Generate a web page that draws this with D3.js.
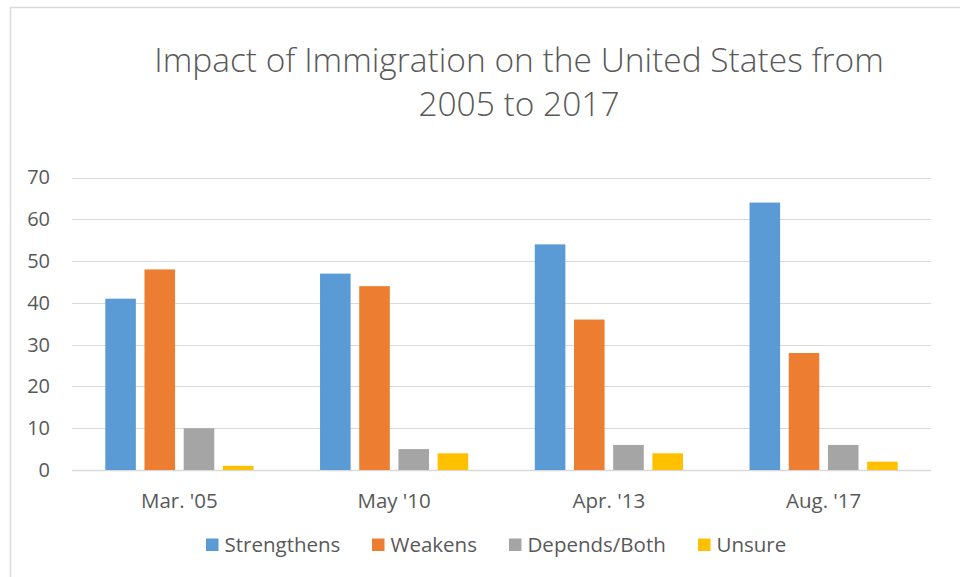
<!DOCTYPE html>
<html>
<head>
<meta charset="utf-8">
<script src="https://cdn.jsdelivr.net/npm/d3@7"></script>
<style>
  html, body { margin: 0; padding: 0; background: #fff; }
  svg { display: block; }
  text { font-family: "Open Sans", "Noto Sans", sans-serif; fill: #595959; }
</style>
</head>
<body>
<svg id="chart" width="960" height="577"></svg>
<script>
// Survey periods and answer groups
const categories = ["Mar. '05", "May '10", "Apr. '13", "Aug. '17"];
const seriesNames = ["Strengthens", "Weakens", "Depends/Both", "Unsure"];
const seriesColors = ["#5B9BD5", "#ED7D31", "#A5A5A5", "#FFC000"];

// Percent of respondents per answer, one array per answer group
const strengthens = [41, 47, 54, 64];
const weakens = [48, 44, 36, 28];
const dependsBoth = [10, 5, 6, 6];
const unsure = [1, 4, 4, 2];
const seriesValues = [strengthens, weakens, dependsBoth, unsure];

const yTicks = [0, 10, 20, 30, 40, 50, 60, 70];
const titleLines = ["Impact of Immigration on the United States from", "2005 to 2017"];

const svg = d3.select("#chart");

// Outer chart frame (left and top edges visible)
svg.append("path")
  .attr("d", "M10.5,577 V7.5 H960")
  .attr("fill", "none")
  .attr("stroke", "#D9D9D9")
  .attr("stroke-width", 1.5);

const plot = { left: 72, right: 931, top: 177.5, bottom: 470 };

const x = d3.scaleBand().domain(categories).range([plot.left, plot.right]);
const y = d3.scaleLinear().domain([0, 70]).range([plot.bottom, plot.top]);
const groupWidth = 156.8;
const xs = d3.scaleBand().domain(seriesNames)
  .range([-groupWidth / 2, groupWidth / 2])
  .paddingInner(0.22).paddingOuter(0.11);

// Horizontal gridlines
svg.append("g").selectAll("line").data(yTicks).join("line")
  .attr("x1", plot.left).attr("x2", plot.right)
  .attr("y1", d => Math.round(y(d)) + 0.5).attr("y2", d => Math.round(y(d)) + 0.5)
  .attr("stroke", "#D9D9D9").attr("stroke-width", d => d === 0 ? 1.5 : 1);

// Y axis labels
const yAxis = d3.axisLeft(y).tickValues(yTicks).tickSize(0).tickPadding(0);
const yg = svg.append("g").attr("transform", "translate(50,0)").call(yAxis);
yg.select(".domain").remove();
yg.attr("font-family", null).attr("font-size", null);
yg.selectAll("text").attr("font-size", 20).attr("fill", "#595959");

// Bars
const groups = svg.append("g").selectAll("g").data(categories).join("g")
  .attr("transform", c => `translate(${x(c) + x.bandwidth() / 2},0)`);
groups.selectAll("rect")
  .data((c, i) => seriesNames.map((s, k) => ({ s, k, v: seriesValues[k][i] })))
  .join("rect")
  .attr("x", d => xs(d.s))
  .attr("width", xs.bandwidth())
  .attr("y", d => y(d.v))
  .attr("height", d => y(0) - y(d.v))
  .attr("fill", d => seriesColors[d.k]);

// X axis labels
const xAxis = d3.axisBottom(x).tickSize(0).tickPadding(0);
const xg = svg.append("g").attr("transform", "translate(0,507.5)").call(xAxis);
xg.select(".domain").remove();
xg.attr("font-family", null).attr("font-size", null);
xg.selectAll("text").attr("font-size", 20.5).attr("fill", "#595959")
  .attr("y", 0).attr("dy", null);

// Title
svg.append("g").selectAll("text").data(titleLines).join("text")
  .attr("x", 519).attr("y", (d, i) => 72 + i * 44)
  .attr("text-anchor", "middle")
  .attr("font-size", 33.5).attr("font-weight", 300)
  .text(d => d);

// Legend
const legendX = [206, 372, 509, 698];
const legend = svg.append("g").selectAll("g").data(seriesNames).join("g")
  .attr("transform", (d, i) => `translate(${legendX[i]},538.5)`);
legend.append("rect").attr("width", 12.5).attr("height", 12.5)
  .attr("fill", (d, i) => seriesColors[i]);
legend.append("text").attr("x", 18.5).attr("y", 13.2)
  .attr("font-size", 20.5).text(d => d);
</script>
</body>
</html>
